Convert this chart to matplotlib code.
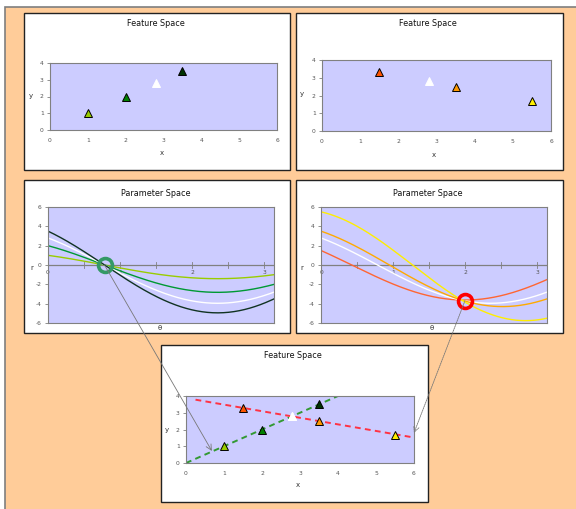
import numpy as np
import matplotlib
matplotlib.use("Agg")
import matplotlib.pyplot as plt
from matplotlib.patches import Rectangle, ConnectionPatch

plt.rcParams["axes.unicode_minus"] = False

# ---------------- data ----------------
# left feature space (points on the line y = x)
x_left = [1.0, 2.0, 2.8, 3.5]
y_left = [1.0, 2.0, 2.8, 3.5]
c_left = ["#99CC00", "#008000", "#FFFFFF", "#003300"]
curve_left = ["#99CC00", "#009933", "#FFFFFF", "#113322"]

# right feature space
x_right = [1.5, 2.8, 3.5, 5.5]
y_right = [3.3, 2.8, 2.5, 1.7]
c_right = ["#FF5500", "#FFFFFF", "#FF9900", "#FFEE00"]
curve_right = ["#FF6633", "#FFFFFF", "#FFAA00", "#FFEE00"]

# fitted lines in the combined feature space
green_line_x = [0.0, 4.0]
green_line_y = [0.0, 4.0]
red_line_x = [0.25, 6.0]
red_line_y = [3.78, 1.52]

# intersection points in parameter space (theta, r)
green_peak = (0.785, 0.0)
red_peak = (2.0, -3.7)

# arrow targets in the combined feature space
green_target = (0.68, 0.72)
red_target = (6.0, 1.8)

feat_xticks = [0, 1, 2, 3, 4, 5, 6]
feat_yticks = [0, 1, 2, 3, 4]
par_yticks = [-6, -4, -2, 0, 2, 4, 6]
par_xticks = [0, 0.5, 1, 1.5, 2, 2.5, 3]
par_xlabels = ["0", "", "1", "", "2", "", "3"]

# ---------------- figure ----------------
W, H = 576, 509
fig = plt.figure(figsize=(W / 100, H / 100), dpi=100)
fig.patch.set_facecolor("white")

def frect(x0, y0, x1, y1):
    return (x0 / W, 1 - y1 / H, (x1 - x0) / W, (y1 - y0) / H)

def fpt(x, y):
    return (x / W, 1 - y / H)

ORANGE = "#FFCC99"
PLOT_BG = "#CCCCFF"
GREY = "#808080"

bx, by, bw, bh = frect(5, 7, 577, 510)
fig.add_artist(Rectangle((bx, by), bw, bh, transform=fig.transFigure,
                         facecolor=ORANGE, edgecolor="#7F7F7F", lw=1.2, zorder=-2))

panels = [(24, 13, 290, 170), (296, 13, 563, 170), (24, 180, 290, 333),
          (296, 180, 563, 333), (161, 345, 428, 502)]
for p in panels:
    x, y, w, h = frect(*p)
    fig.add_artist(Rectangle((x, y), w, h, transform=fig.transFigure,
                             facecolor="white", edgecolor="#222222", lw=1.0, zorder=-1))

def style_axes(ax):
    ax.set_zorder(2)
    ax.set_facecolor(PLOT_BG)
    for s in ax.spines.values():
        s.set_color(GREY)
        s.set_linewidth(0.8)
    ax.tick_params(colors=GREY, labelsize=4.3, width=0.6)

def feature_axes(rect):
    ax = fig.add_axes(frect(*rect))
    style_axes(ax)
    ax.set_xlim(0, 6)
    ax.set_ylim(0, 4)
    ax.set_xticks(feat_xticks)
    ax.set_yticks(feat_yticks)
    ax.tick_params(axis="x", length=0, pad=6)
    ax.tick_params(axis="y", length=2.5, pad=2)
    for lab in ax.get_xticklabels() + ax.get_yticklabels():
        lab.set_color("#555555")
    return ax

def param_axes(rect):
    ax = fig.add_axes(frect(*rect))
    style_axes(ax)
    ax.set_xlim(0, 3.14)
    ax.set_ylim(-6, 6)
    ax.set_yticks(par_yticks)
    ax.set_xticks([])
    ax.axhline(0, color=GREY, lw=0.9, zorder=1)
    for t, lab in zip(par_xticks, par_xlabels):
        ax.plot([t, t], [-0.3, 0.3], color=GREY, lw=0.6, zorder=1)
        if lab:
            ax.text(t, -0.55, lab, ha="center", va="top", fontsize=4.3,
                    color="#555555", zorder=1)
    ax.tick_params(axis="y", length=2.5, pad=2)
    for lab in ax.get_yticklabels():
        lab.set_color("#555555")
    return ax

TITLE_KW = dict(fontsize=5.8, ha="center", va="center", color="#111111")
LAB_KW = dict(fontsize=5, ha="center", va="center", color="#333333")

theta = np.linspace(0, 3.14, 300)

def tri(ax, xs, ys, cs):
    for xi, yi, c in zip(xs, ys, cs):
        ax.plot(xi, yi, marker="^", ms=5.5, mfc=c,
                mec="black" if c != "#FFFFFF" else "white",
                mew=0.7, ls="none", zorder=3)

# ---- top-left feature space
ax1 = feature_axes((50, 63, 277, 130))
tri(ax1, x_left, y_left, c_left)
fig.text(*fpt(156, 24), "Feature Space", **TITLE_KW)
fig.text(*fpt(162, 153), "x", **LAB_KW)
fig.text(*fpt(31, 96), "y", **LAB_KW)

# ---- top-right feature space
ax2 = feature_axes((322, 60, 551, 131))
tri(ax2, x_right, y_right, c_right)
fig.text(*fpt(428, 24), "Feature Space", **TITLE_KW)
fig.text(*fpt(434, 155), "x", **LAB_KW)
fig.text(*fpt(302, 94), "y", **LAB_KW)

# ---- mid-left parameter space (Hough curves of left points)
ax3 = param_axes((48, 207, 274, 323))
for xi, yi, c in zip(x_left, y_left, curve_left):
    ax3.plot(theta, xi * np.cos(theta) - yi * np.sin(theta), color=c, lw=1.0, zorder=2)
ax3.plot(*green_peak, marker="o", ms=10, mfc="none", mec="#339966", mew=2.6, zorder=4)
fig.text(*fpt(156, 193), "Parameter Space", **TITLE_KW)
fig.text(*fpt(32, 268), "r", **LAB_KW)
fig.text(*fpt(160, 328), "θ", **LAB_KW)

# ---- mid-right parameter space (Hough curves of right points)
ax4 = param_axes((321, 207, 547, 323))
for xi, yi, c in zip(x_right, y_right, curve_right):
    ax4.plot(theta, xi * np.cos(theta) - yi * np.sin(theta), color=c, lw=1.0, zorder=2)
ax4.plot(*red_peak, marker="o", ms=10, mfc="none", mec="#FF0000", mew=2.6, zorder=4)
fig.text(*fpt(428, 193), "Parameter Space", **TITLE_KW)
fig.text(*fpt(302, 268), "r", **LAB_KW)
fig.text(*fpt(432, 328), "θ", **LAB_KW)

# ---- bottom combined feature space
ax5 = feature_axes((186, 396, 414, 463))
ax5.plot(green_line_x, green_line_y, color="#339933", lw=1.4, ls=(0, (3, 2.2)), zorder=2)
ax5.plot(red_line_x, red_line_y, color="#FF3344", lw=1.4, ls=(0, (3, 2.2)), zorder=2)
tri(ax5, x_left + x_right, y_left + y_right, c_left + c_right)
fig.text(*fpt(293, 356), "Feature Space", **TITLE_KW)
fig.text(*fpt(298, 485), "x", **LAB_KW)
fig.text(*fpt(167, 430), "y", **LAB_KW)

# ---- arrows from parameter-space peaks to the lines
con1 = ConnectionPatch(xyA=green_peak, coordsA=ax3.transData,
                       xyB=green_target, coordsB=ax5.transData,
                       arrowstyle="->", color="#777777", lw=0.6, zorder=10)
fig.add_artist(con1)
con2 = ConnectionPatch(xyA=red_peak, coordsA=ax4.transData,
                       xyB=red_target, coordsB=ax5.transData,
                       arrowstyle="->", color="#777777", lw=0.6, ls=(0, (1.5, 1)), zorder=10)
fig.add_artist(con2)

fig.savefig("out.png", dpi=100, facecolor=fig.get_facecolor())
